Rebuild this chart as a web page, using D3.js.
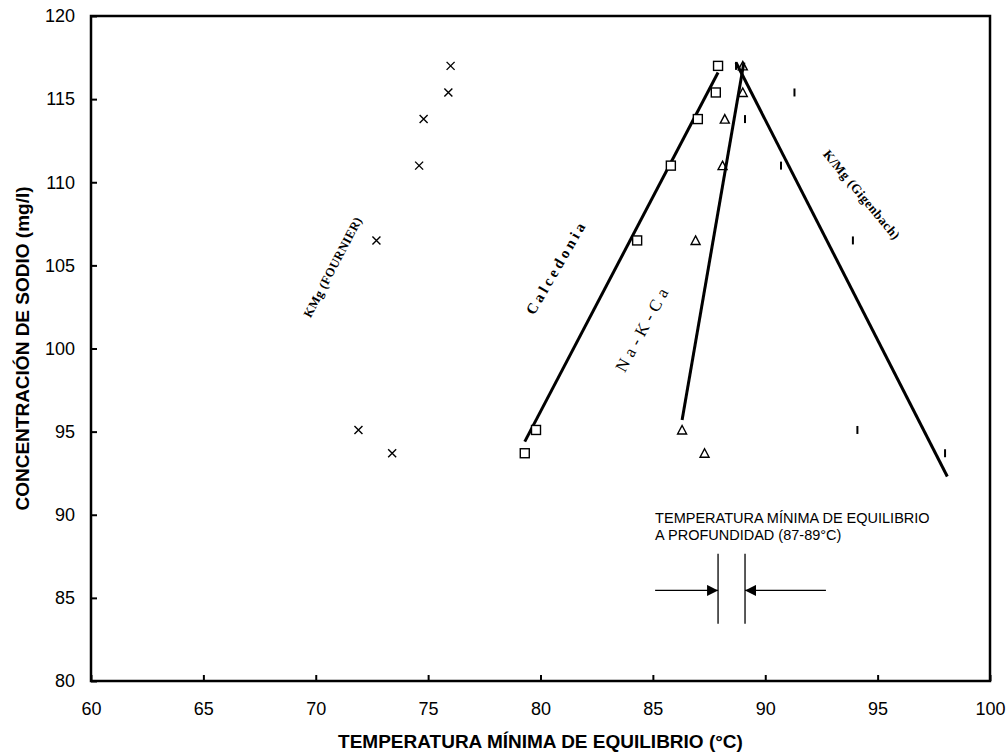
<!DOCTYPE html>
<html>
<head>
<meta charset="utf-8">
<script src="https://cdn.jsdelivr.net/npm/d3@7"></script>
<style>
	body { margin: 0; background: #fff; }
	text { fill: #000; }
</style>
</head>
<body>
<div id="chart"></div>
<script>

// sodium concentration rows (mg/l), shared by every geothermometer
let sodio = [117, 115.4, 113.8, 111, 106.5, 95.1, 93.7]

// equilibrium temperatures (°C) per geothermometer
let kmgFournier = [76.0, 75.9, 74.8, 74.6, 72.7, 71.9, 73.4]
let calcedonia = [87.9, 87.8, 87.0, 85.8, 84.3, 79.8, 79.3]
let naKCa = [89.0, 89.0, 88.2, 88.1, 86.9, 86.3, 87.3]
let kmgGigenbach = [88.7, 91.3, 89.1, 90.7, 93.9, 94.1, 98.0]

// trend lines [temperature, sodium]
let calcedoniaLine = [[79.3, 94.4], [87.9, 116.6]]
let naKCaLine = [[86.3, 95.7], [89.05, 117.2]]
let gigenbachLine = [[88.7, 117.2], [98.1, 92.3]]

// ticks
let xTicks = [60, 65, 70, 75, 80, 85, 90, 95, 100]
let yTicks = [80, 85, 90, 95, 100, 105, 110, 115, 120]

// equilibrium window at depth
let eqLimits = [87.9, 89.1]


let width = 1007
let height = 753
let margin = ({top: 16, right: 17, bottom: 72, left: 91})

let x = d3.scaleLinear()
	.domain([60, 100])
	.range([margin.left, width - margin.right])

let y = d3.scaleLinear()
	.domain([80, 120])
	.range([height - margin.bottom, margin.top])

const svg = d3.select('#chart')
	.append('svg')
	.attr('width', width)
	.attr('height', height)
	.style('font-family', 'Liberation Sans, Arial, sans-serif')

svg.append('defs').append('marker')
	.attr('id', 'arrow')
	.attr('viewBox', '0 0 10 10')
	.attr('refX', 10)
	.attr('refY', 5)
	.attr('markerWidth', 13)
	.attr('markerHeight', 11)
	.attr('markerUnits', 'userSpaceOnUse')
	.attr('orient', 'auto')
	.append('path')
	.attr('d', 'M0,0L10,5L0,10Z')
	.attr('fill', '#000')

// axes
let xAxis = g => g
	.attr('transform', `translate(0,${y(80)})`)
	.call(d3.axisBottom(x).tickValues(xTicks).tickSizeInner(-6).tickSizeOuter(0).tickPadding(21))

let yAxis = g => g
	.attr('transform', `translate(${x(60)},0)`)
	.call(d3.axisLeft(y).tickValues(yTicks).tickSizeInner(-6).tickSizeOuter(0).tickPadding(16))

svg.append('g').call(xAxis)
svg.append('g').call(yAxis)

svg.selectAll('.tick line').attr('stroke', '#000').attr('stroke-width', 2)
svg.selectAll('.tick text')
	.attr('font-size', 18)
	.attr('font-family', 'Liberation Sans, Arial, sans-serif')
svg.selectAll('.domain').remove()

// frame
svg.append('rect')
	.attr('x', x(60))
	.attr('y', y(120))
	.attr('width', x(100) - x(60))
	.attr('height', y(80) - y(120))
	.attr('fill', 'none')
	.attr('stroke', '#000')
	.attr('stroke-width', 2.5)

// axis titles
svg.append('text')
	.attr('x', (x(60) + x(100)) / 2)
	.attr('y', 748)
	.attr('text-anchor', 'middle')
	.attr('font-size', 19)
	.attr('font-weight', 'bold')
	.text('TEMPERATURA MÍNIMA DE EQUILIBRIO (°C)')

svg.append('text')
	.attr('transform', `translate(29,${(y(80) + y(120)) / 2}) rotate(-90)`)
	.attr('text-anchor', 'middle')
	.attr('font-size', 19)
	.attr('font-weight', 'bold')
	.text('CONCENTRACIÓN DE SODIO (mg/l)')

// trend lines
let line = d3.line()
	.x(d => x(d[0]))
	.y(d => y(d[1]))

let trends = [calcedoniaLine, naKCaLine, gigenbachLine]

svg.selectAll('.trend')
	.data(trends)
	.enter()
	.append('path')
	.attr('class', 'trend')
	.attr('d', line)
	.attr('fill', 'none')
	.attr('stroke', '#000')
	.attr('stroke-width', 3)

// markers
let pts = series => series.map((t, i) => ({t: t, s: sodio[i]}))

svg.selectAll('.cross')
	.data(pts(kmgFournier))
	.enter()
	.append('path')
	.attr('class', 'cross')
	.attr('transform', d => `translate(${x(d.t)},${y(d.s)})`)
	.attr('d', 'M-4,-4L4,4M-4,4L4,-4')
	.attr('stroke', '#000')
	.attr('stroke-width', 1.4)

svg.selectAll('.square')
	.data(pts(calcedonia))
	.enter()
	.append('rect')
	.attr('class', 'square')
	.attr('x', d => x(d.t) - 4.5)
	.attr('y', d => y(d.s) - 4.5)
	.attr('width', 9)
	.attr('height', 9)
	.attr('fill', '#fff')
	.attr('stroke', '#000')
	.attr('stroke-width', 1.4)

svg.selectAll('.tri')
	.data(pts(naKCa))
	.enter()
	.append('path')
	.attr('class', 'tri')
	.attr('transform', d => `translate(${x(d.t)},${y(d.s)})`)
	.attr('d', 'M0,-4.5L4.5,4L-4.5,4Z')
	.attr('fill', 'none')
	.attr('stroke', '#000')
	.attr('stroke-width', 1.4)

svg.selectAll('.bar')
	.data(pts(kmgGigenbach))
	.enter()
	.append('line')
	.attr('class', 'bar')
	.attr('x1', d => x(d.t))
	.attr('x2', d => x(d.t))
	.attr('y1', d => y(d.s) - 4)
	.attr('y2', d => y(d.s) + 4)
	.attr('stroke', '#000')
	.attr('stroke-width', 2)

// rotated series labels
let labels = [
	{text: 'KMg (FOURNIER)', t: 70.75, s: 104.9, angle: -62.3, size: 12.5, weight: 'bold', spacing: 0.4},
	{text: 'Calcedonia', t: 80.7, s: 104.9, angle: -60, size: 15, weight: 'bold', spacing: 3.5},
	{text: 'Na-K-Ca', t: 84.55, s: 101.25, angle: -61.5, size: 17, weight: 'normal', spacing: 5},
	{text: 'K/Mg (Gigenbach)', t: 94.3, s: 109.25, angle: 50.2, size: 13, weight: 'bold', spacing: 0.5}
]

svg.selectAll('.label')
	.data(labels)
	.enter()
	.append('text')
	.attr('class', 'label')
	.attr('transform', d => `translate(${x(d.t)},${y(d.s)}) rotate(${d.angle})`)
	.attr('text-anchor', 'middle')
	.attr('dy', '0.35em')
	.attr('font-family', 'Liberation Serif, Times New Roman, serif')
	.attr('font-size', d => d.size)
	.attr('font-weight', d => d.weight)
	.attr('letter-spacing', d => d.spacing)
	.text(d => d.text)

// annotation: equilibrium temperature at depth
svg.append('text')
	.attr('x', x(85.1))
	.attr('y', y(89.5))
	.attr('font-size', 14.5)
	.text('TEMPERATURA MÍNIMA DE EQUILIBRIO')

svg.append('text')
	.attr('x', x(85.1))
	.attr('y', y(88.5))
	.attr('font-size', 14.5)
	.text('A PROFUNDIDAD (87-89°C)')

svg.selectAll('.limit')
	.data(eqLimits)
	.enter()
	.append('line')
	.attr('class', 'limit')
	.attr('x1', d => x(d))
	.attr('x2', d => x(d))
	.attr('y1', y(87.65))
	.attr('y2', y(83.45))
	.attr('stroke', '#000')
	.attr('stroke-width', 1.3)

let arrows = [[85.1, eqLimits[0]], [92.7, eqLimits[1]]]

svg.selectAll('.arrow')
	.data(arrows)
	.enter()
	.append('line')
	.attr('class', 'arrow')
	.attr('x1', d => x(d[0]))
	.attr('x2', d => x(d[1]))
	.attr('y1', y(85.45))
	.attr('y2', y(85.45))
	.attr('stroke', '#000')
	.attr('stroke-width', 1.2)
	.attr('marker-end', 'url(#arrow)')

</script>
</body>
</html>
